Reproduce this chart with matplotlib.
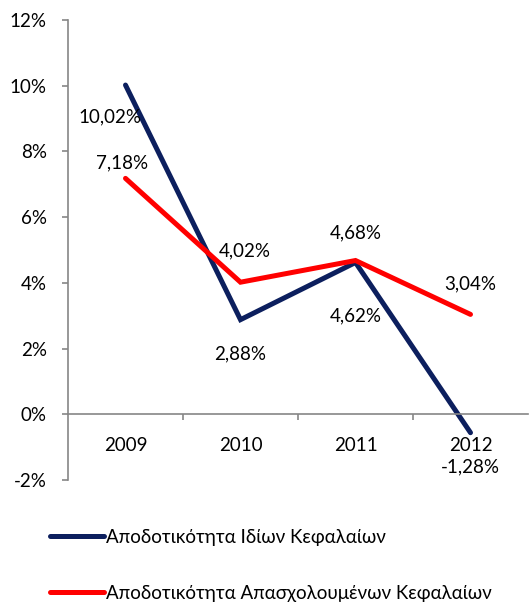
import matplotlib
matplotlib.use("Agg")
import matplotlib.pyplot as plt
from matplotlib.ticker import FixedLocator, FuncFormatter

# fonts (Greek text)
plt.rcParams['font.family'] = ['Lato', 'Noto Sans', 'DejaVu Sans']
FS = 13.5

# data
years = ['2009', '2010', '2011', '2012']
roe = [10.02, 2.88, 4.62, -0.56]          # line as drawn in the picture
roce = [7.18, 4.02, 4.68, 3.04]
roe_labels = ['10,02%', '2,88%', '4,62%', '-1,28%']
roce_labels = ['7,18%', '4,02%', '4,68%', '3,04%']
series_names = ['Αποδοτικότητα Ιδίων Κεφαλαίων',
                'Αποδοτικότητα Απασχολουμένων Κεφαλαίων']

NAVY = '#0c1f5e'
RED = '#ff0000'
GRAY = '#868686'

fig = plt.figure(figsize=(5.29, 6.04), dpi=100)
ax = fig.add_axes([68/529, 1 - 480/604, 460/529, 460/604])

x = list(range(len(years)))
l1, = ax.plot(x, roe, color=NAVY, lw=3.6, solid_capstyle='round', solid_joinstyle='miter')
l2, = ax.plot(x, roce, color=RED, lw=3.6, solid_capstyle='round', solid_joinstyle='miter')

ax.set_xlim(-0.5, 3.5)
ax.set_ylim(-2, 12)

# data labels (offsets in pixels)
roe_off = [(-16, -32), (0, -34), (0, -53), (0, -34)]
roce_off = [(-3, 15), (4, 31), (0, 28), (0, 31)]
for xi, v, s, off in zip(x, roe, roe_labels, roe_off):
    ax.annotate(s, (xi, v), xytext=off, textcoords='offset pixels',
                ha='center', va='center', fontsize=FS)
for xi, v, s, off in zip(x, roce, roce_labels, roce_off):
    ax.annotate(s, (xi, v), xytext=off, textcoords='offset pixels',
                ha='center', va='center', fontsize=FS)

# axes styling
for sp in ['top', 'right']:
    ax.spines[sp].set_visible(False)
ax.spines['left'].set_color(GRAY)
ax.spines['bottom'].set_color(GRAY)
ax.spines['bottom'].set_position(('data', 0))
ax.spines['left'].set_linewidth(1.2)
ax.spines['bottom'].set_linewidth(1.2)

ax.yaxis.set_major_locator(FixedLocator(list(range(-2, 13, 2))))
ax.yaxis.set_major_formatter(FuncFormatter(lambda v, p: f'{v:.0f}%'))
ax.tick_params(axis='y', direction='out', length=4.3, width=1.2, color=GRAY,
               labelsize=FS, pad=11)

ax.set_xticks(x)
ax.set_xticklabels(years)
ax.set_xticks([0.5, 1.5, 2.5], minor=True)
ax.tick_params(axis='x', which='major', length=0, labelsize=FS, pad=16)
ax.tick_params(axis='x', which='minor', direction='out', length=4.3, width=1.2, color=GRAY)

fig.legend([l1, l2], series_names, loc='upper left',
           bbox_to_anchor=(42/529, 1 - 521/604), frameon=False,
           fontsize=FS, handlelength=2.9, handletextpad=0.1,
           labelspacing=2.1, borderaxespad=0)

fig.savefig('out.png', dpi=100)
